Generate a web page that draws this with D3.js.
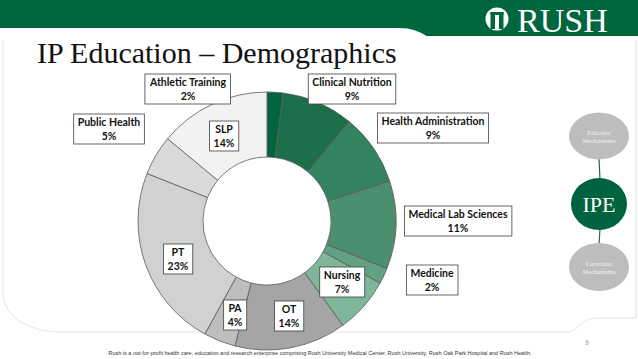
<!DOCTYPE html>
<html lang="en">
<head>
    <meta charset="UTF-8">
    <title>IP Education – Demographics</title>
    <script src="https://d3js.org/d3.v7.min.js"></script>
    <style>
        html, body {
            margin: 0;
            padding: 0;
            background: #ffffff;
            overflow: hidden;
        }
        .label-text {
            font-family: Lato, "Open Sans", sans-serif;
            font-weight: 700;
            font-size: 10.5px;
            fill: #111111;
        }
        .label-box {
            fill: #ffffff;
            stroke: #404040;
            stroke-width: 0.8;
        }
        .slice {
            stroke: #5a5a5a;
            stroke-width: 0.8;
        }
    </style>
</head>
<body>
    <svg id="chart" width="638" height="359"></svg>

    <script>
        // Data: share of IP education participants by program (%)
        const categories = [
            "Athletic Training", "Clinical Nutrition", "Health Administration",
            "Medical Lab Sciences", "Medicine", "Nursing", "OT", "PA", "PT",
            "Public Health", "SLP"
        ];
        const shares = [2, 9, 9, 11, 2, 7, 14, 4, 23, 5, 14];

        // slice fills, in category order
        const palette = [
            "#016640", "#1d6e4b", "#338260", "#4c8f6f", "#62a184", "#7fb69b",
            "#a5a5a5", "#bebebe", "#d1d1d1", "#dadada", "#f2f2f2"
        ];

        // hand placed label boxes (centre, relative to the donut centre)
        const labelOffsets = {
            "Athletic Training": [-79, -133],
            "Clinical Nutrition": [85, -133],
            "Health Administration": [166, -94],
            "Medical Lab Sciences": [191, -1],
            "Medicine": [165, 58],
            "Nursing": [75, 60],
            "OT": [22, 94],
            "PA": [-32, 93],
            "PT": [-89, 37],
            "Public Health": [-158, -93],
            "SLP": [-43, -86]
        };

        const width = 638, height = 359;
        const cx = 267, cy = 221;
        const outerR = 129, innerR = 64;

        const svg = d3.select("#chart");

        // ---- slide frame ----
        svg.append("rect").attr("x", 0).attr("y", 0)
            .attr("width", width).attr("height", 36).attr("fill", "#00663d");
        svg.append("path")
            .attr("d", "M0,28 H398 C412,28 420,31 432,40 V44 H0 Z")
            .attr("fill", "#ffffff");

        svg.append("path")
            .attr("d", "M3,40 V296 C6,318 28,331 60,332 H568 C578,331 582,318 596,318 H636 V40")
            .attr("fill", "none")
            .attr("stroke", "#dcdcdc")
            .attr("stroke-width", 0.8);

        // logo
        const logo = svg.append("g").attr("transform", "translate(497,19)");
        logo.append("circle").attr("r", 11.5).attr("fill", "#ffffff");
        logo.append("rect").attr("x", -6.5).attr("y", -7).attr("width", 4.5).attr("height", 17).attr("fill", "#00663d");
        logo.append("rect").attr("x", 2).attr("y", -7).attr("width", 4.5).attr("height", 17).attr("fill", "#00663d");
        logo.append("rect").attr("x", -6.5).attr("y", -7).attr("width", 13).attr("height", 3).attr("fill", "#00663d");

        svg.append("text")
            .attr("x", 517).attr("y", 32)
            .attr("font-family", "'Liberation Serif', 'DejaVu Serif', serif")
            .attr("font-size", 34)
            .attr("fill", "#ffffff")
            .text("RUSH");

        svg.append("text")
            .attr("x", 37).attr("y", 63)
            .attr("font-family", "'Liberation Serif', 'DejaVu Serif', serif")
            .attr("font-size", 30)
            .attr("fill", "#111111")
            .text("IP Education – Demographics");

        // ---- donut ----
        const pie = d3.pie().sort(null).value(d => d.value);
        const arc = d3.arc().innerRadius(innerR).outerRadius(outerR);
        const color = d3.scaleOrdinal().domain(categories).range(palette);

        const rows = categories.map((c, i) => ({ name: c, value: shares[i] }));

        const g = svg.append("g").attr("transform", `translate(${cx},${cy})`);

        g.selectAll("path.slice")
            .data(pie(rows))
            .join("path")
            .attr("class", "slice")
            .attr("d", arc)
            .attr("fill", d => color(d.data.name));

        // labels
        const labels = g.selectAll("g.label")
            .data(rows)
            .join("g")
            .attr("class", "label")
            .attr("transform", d => `translate(${labelOffsets[d.name][0]},${labelOffsets[d.name][1]})`);

        labels.each(function(d) {
            const lg = d3.select(this);
            const box = lg.append("rect").attr("class", "label-box");
            const t = lg.append("text").attr("class", "label-text").attr("text-anchor", "middle");
            t.append("tspan").attr("x", 0).attr("y", -2).text(d.name);
            t.append("tspan").attr("x", 0).attr("y", 12).text(d.value + "%");
            const bb = t.node().getBBox();
            box.attr("x", bb.x - 4).attr("y", bb.y - 2)
                .attr("width", bb.width + 8).attr("height", bb.height + 4);
        });

        // ---- right side panel ----
        const panel = svg.append("g");
        panel.append("line").attr("x1", 599).attr("y1", 158).attr("x2", 600).attr("y2", 180)
            .attr("stroke", "#2f5a4a").attr("stroke-width", 1.2);
        panel.append("line").attr("x1", 600).attr("y1", 228).attr("x2", 599).attr("y2", 245)
            .attr("stroke", "#2f5a4a").attr("stroke-width", 1.2);

        const nodes = [
            { y: 136, rx: 30, ry: 23.5, fill: "#bdbdbd", lines: ["Educator", "Mechanisms"], size: 6.5 },
            { y: 204, rx: 28, ry: 26, fill: "#00633f", lines: ["IPE"], size: 22 },
            { y: 267, rx: 30, ry: 24, fill: "#bdbdbd", lines: ["Curricular", "Mechanisms"], size: 6.5 }
        ];
        nodes.forEach(n => {
            panel.append("ellipse").attr("cx", 599).attr("cy", n.y)
                .attr("rx", n.rx).attr("ry", n.ry).attr("fill", n.fill);
            const t = panel.append("text")
                .attr("text-anchor", "middle")
                .attr("font-family", "'Liberation Serif', serif")
                .attr("font-size", n.size)
                .attr("fill", n.lines.length > 1 ? "#f4f4f4" : "#ffffff");
            if (n.lines.length > 1) {
                t.append("tspan").attr("x", 599).attr("y", n.y - 1).text(n.lines[0]);
                t.append("tspan").attr("x", 599).attr("y", n.y + 7).text(n.lines[1]);
            } else {
                t.append("tspan").attr("x", 599).attr("y", n.y + 8).text(n.lines[0]);
            }
        });

        // ---- footer ----
        svg.append("text")
            .attr("x", 587).attr("y", 345)
            .attr("text-anchor", "middle")
            .attr("font-family", "'Liberation Sans', sans-serif")
            .attr("font-size", 7)
            .attr("fill", "#9a9a9a")
            .text("9");

        svg.append("text")
            .attr("x", 320).attr("y", 355)
            .attr("text-anchor", "middle")
            .attr("font-family", "'Liberation Sans', sans-serif")
            .attr("font-size", 5.5)
            .attr("fill", "#333333")
            .text("Rush is a not-for-profit health care, education and research enterprise comprising Rush University Medical Center, Rush University, Rush Oak Park Hospital and Rush Health.");
    </script>
</body>
</html>
